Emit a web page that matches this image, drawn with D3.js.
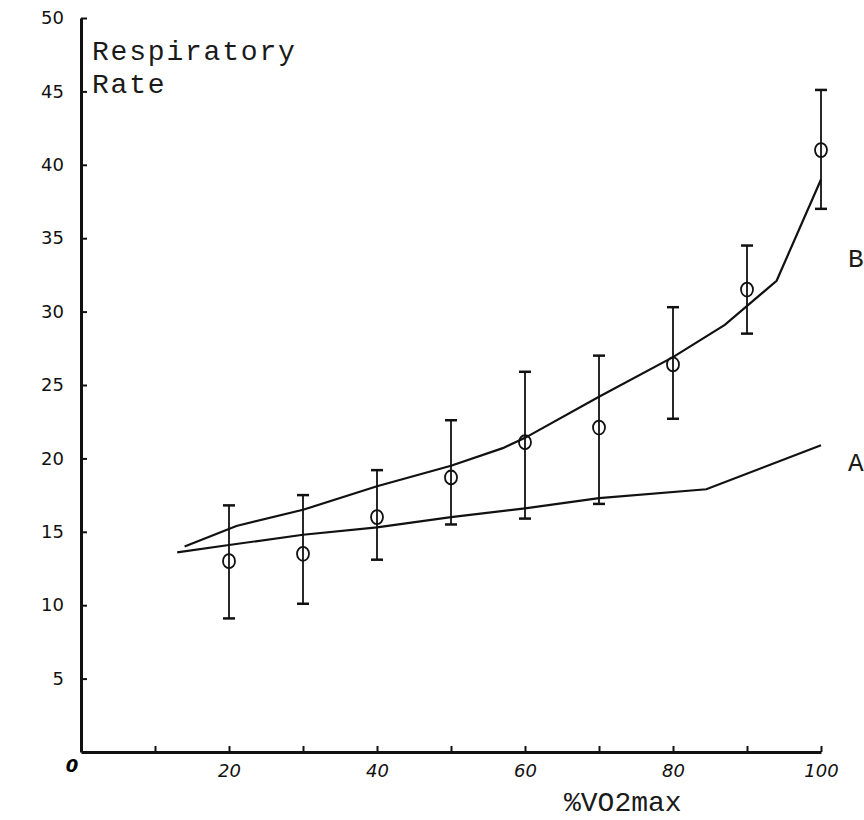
<!DOCTYPE html>
<html>
<head>
<meta charset="utf-8">
<script src="https://cdn.jsdelivr.net/npm/d3@7"></script>
<style>
  body { margin: 0; background: #fff; }
  svg { display: block; }
  .tick text { font-family: "DejaVu Sans", sans-serif; font-size: 18px; fill: #111; }
  .xaxis .tick text { font-style: italic; }
  .mono { font-family: "Liberation Mono", "DejaVu Sans Mono", monospace; fill: #1a1a1a; }
</style>
</head>
<body>
<svg id="chart" width="864" height="820"></svg>
<script>
// %VO2max stages with the measured respiratory rate (mean, upper, lower)
const stages = [20, 30, 40, 50, 60, 70, 80, 90, 100];
const means  = [13.0, 13.5, 16.0, 18.7, 21.1, 22.1, 26.4, 31.5, 41.0];
const uppers = [16.8, 17.5, 19.2, 22.6, 25.9, 27.0, 30.3, 34.5, 45.1];
const lowers = [9.1, 10.1, 13.1, 15.5, 15.9, 16.9, 22.7, 28.5, 37.0];

// curve B (upper) and curve A (lower) as drawn
const lineBx = [14, 21, 30, 40, 50, 57, 60, 70, 80, 87, 94, 100];
const lineBy = [14.0, 15.4, 16.5, 18.1, 19.5, 20.7, 21.4, 24.2, 26.9, 29.1, 32.1, 39.0];
const lineAx = [13, 20, 30, 40, 50, 60, 70, 84.5, 100];
const lineAy = [13.6, 14.1, 14.8, 15.3, 16.0, 16.6, 17.3, 17.9, 20.9];

const xTicks = [10, 20, 30, 40, 50, 60, 70, 80, 90, 100];
const xLabels = [20, 40, 60, 80, 100];
const yTicks = [5, 10, 15, 20, 25, 30, 35, 40, 45, 50];

const svg = d3.select("#chart");
const x = d3.scaleLinear().domain([0, 100]).range([81, 821]);
const y = d3.scaleLinear().domain([0, 50]).range([752, 18]);

// x axis
const gx = svg.append("g").attr("class", "xaxis").attr("transform", "translate(0," + y(0) + ")")
  .call(d3.axisBottom(x).tickValues(xTicks).tickSizeInner(-6).tickSizeOuter(0).tickPadding(12)
    .tickFormat(d => xLabels.includes(d) ? d : ""));
gx.select(".domain").attr("stroke", "#111").attr("stroke-width", 3);
gx.selectAll(".tick line").attr("stroke", "#111").attr("stroke-width", 2);

// y axis
const gy = svg.append("g").attr("transform", "translate(" + x(0) + ",0)")
  .call(d3.axisLeft(y).tickValues(yTicks).tickSizeInner(-6).tickSizeOuter(0).tickPadding(17));
gy.select(".domain").attr("stroke", "#111").attr("stroke-width", 3);
gy.selectAll(".tick line").attr("stroke", "#111").attr("stroke-width", 2);

svg.append("text").attr("x", x(0) - 9).attr("y", y(0) + 20)
  .attr("text-anchor", "middle").style("font-family", "DejaVu Sans").style("font-style", "italic")
  .style("font-weight", "bold").style("font-size", "18px").text("0");

// curves
const line = d3.line().x(d => x(d[0])).y(d => y(d[1]));
svg.append("path").datum(d3.zip(lineBx, lineBy)).attr("d", line)
  .attr("fill", "none").attr("stroke", "#111").attr("stroke-width", 2.2);
svg.append("path").datum(d3.zip(lineAx, lineAy)).attr("d", line)
  .attr("fill", "none").attr("stroke", "#111").attr("stroke-width", 2.2);

// error bars
const bars = svg.append("g").selectAll("g").data(stages).join("g");
bars.append("line").attr("x1", d => x(d)).attr("x2", d => x(d))
  .attr("y1", (d, i) => y(uppers[i])).attr("y2", (d, i) => y(lowers[i]))
  .attr("stroke", "#111").attr("stroke-width", 1.8);
bars.append("line").attr("x1", d => x(d) - 6).attr("x2", d => x(d) + 6)
  .attr("y1", (d, i) => y(uppers[i])).attr("y2", (d, i) => y(uppers[i]))
  .attr("stroke", "#111").attr("stroke-width", 2.5);
bars.append("line").attr("x1", d => x(d) - 6).attr("x2", d => x(d) + 6)
  .attr("y1", (d, i) => y(lowers[i])).attr("y2", (d, i) => y(lowers[i]))
  .attr("stroke", "#111").attr("stroke-width", 2.5);
bars.append("ellipse").attr("cx", d => x(d)).attr("cy", (d, i) => y(means[i]))
  .attr("rx", 6).attr("ry", 7).attr("fill", "none").attr("stroke", "#111").attr("stroke-width", 1.8);

// labels
svg.append("text").attr("class", "mono").attr("x", 92).attr("y", 60).style("font-size", "28px")
  .style("letter-spacing", "1.8px").text("Respiratory");
svg.append("text").attr("class", "mono").attr("x", 92).attr("y", 93).style("font-size", "28px")
  .style("letter-spacing", "1.8px").text("Rate");
svg.append("text").attr("class", "mono").attr("x", 564).attr("y", 811).style("font-size", "28px").text("%VO2max");
svg.append("text").attr("class", "mono").attr("x", 848).attr("y", 267).style("font-size", "26px").text("B");
svg.append("text").attr("class", "mono").attr("x", 848).attr("y", 471).style("font-size", "26px").text("A");
</script>
</body>
</html>
